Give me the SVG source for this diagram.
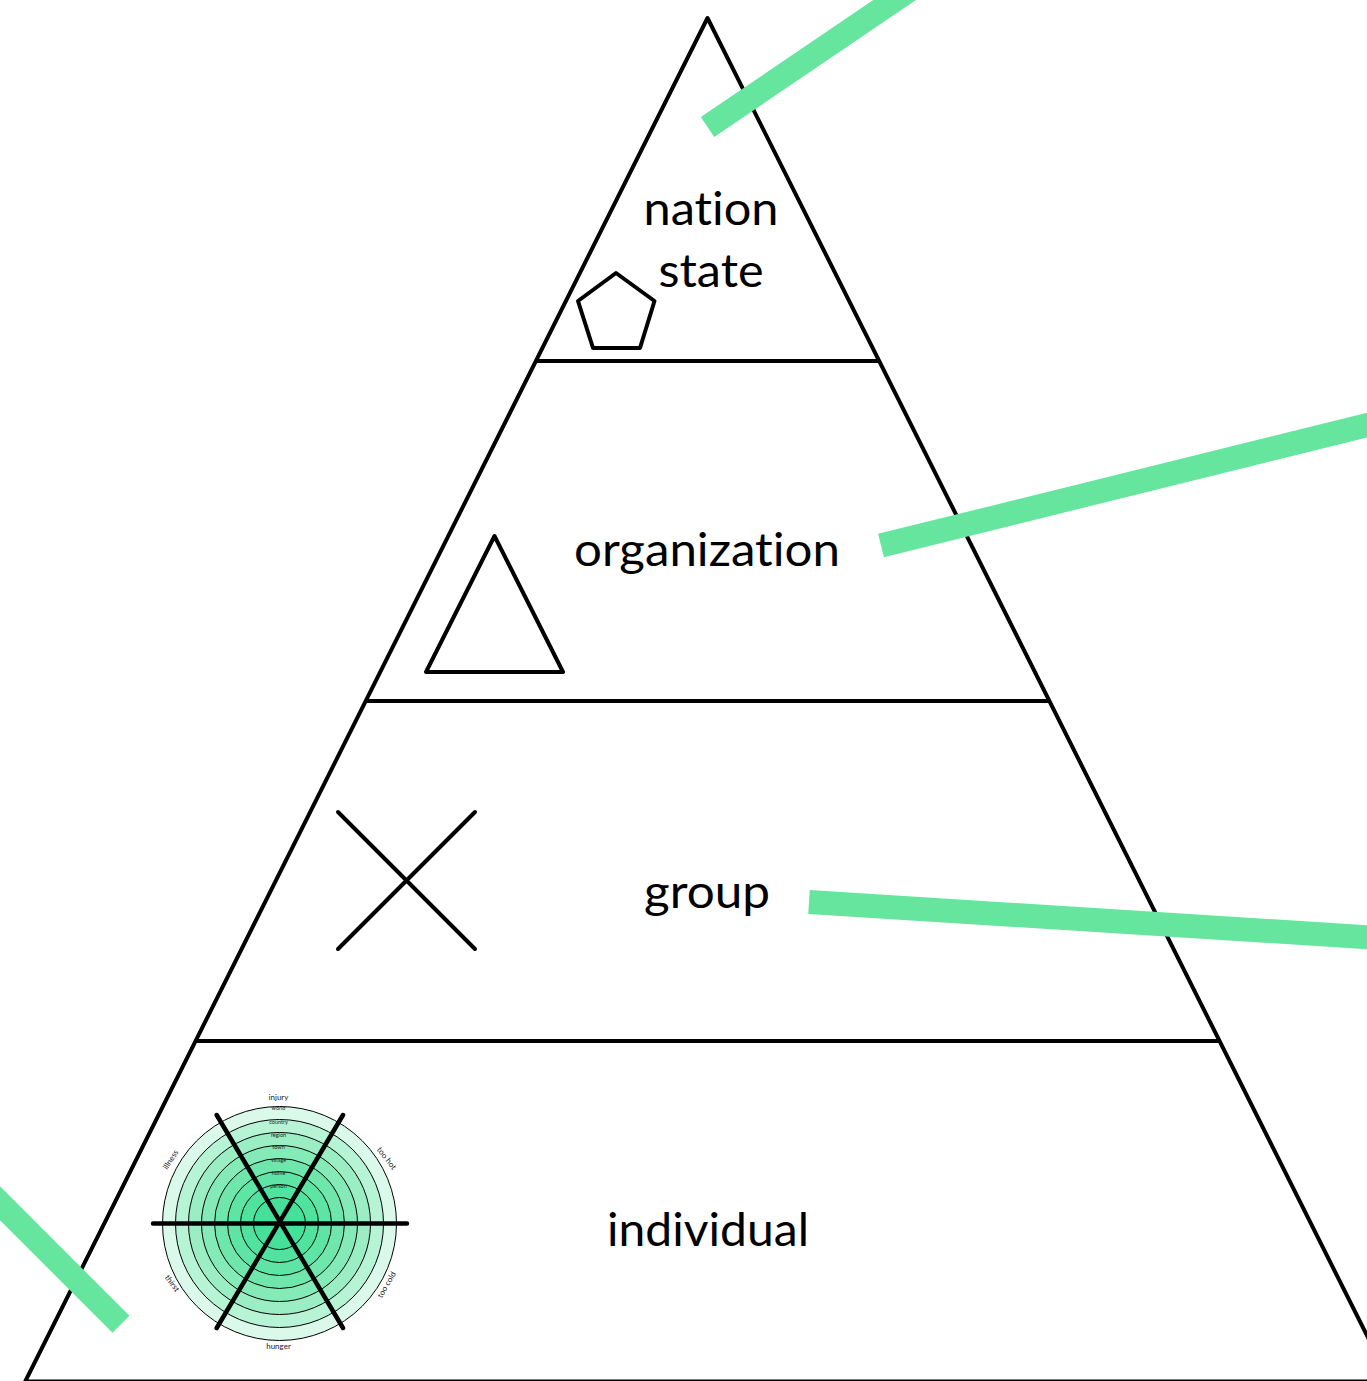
<svg xmlns="http://www.w3.org/2000/svg" width="1367" height="1381" viewBox="0 0 1367 1381">
<style>
.s{fill:none;stroke:#000;stroke-width:4;stroke-linejoin:round;stroke-linecap:round}
.b{fill:none;stroke:#66e59e;stroke-width:24}
.r{stroke:#000;stroke-width:1}
.sp{stroke:#000;stroke-width:4.5;stroke-linecap:round}
text{font-family:"Lato","Noto Sans",sans-serif;fill:#000;text-anchor:middle;font-variant-ligatures:none}
.l{font-size:46px}
.m{font-size:8px;fill:#222}
.t{font-size:5.5px;fill:#222}
</style>
<rect width="1367" height="1381" fill="#fff"/>
<g id="pyramid">
<path class="s" d="M707.5 18L25.2 1381.5H1390Z"/>
<path class="s" d="M537 361H878M367 701H1048M197 1041H1218"/>
</g>
<g id="nation-state">
<text class="l" x="711" y="225" textLength="135" lengthAdjust="spacingAndGlyphs">nation</text>
<text class="l" x="711" y="287" textLength="105" lengthAdjust="spacingAndGlyphs">state</text>
<path class="s" d="M616 273L654.500 301L640 348H593L578 301Z"/>
</g>
<g id="organization">
<text class="l" x="707" y="566" textLength="266" lengthAdjust="spacingAndGlyphs">organization</text>
<path class="s" d="M494.500 536L563 672H426Z"/>
</g>
<g id="group">
<text class="l" x="707" y="908" textLength="126" lengthAdjust="spacingAndGlyphs">group</text>
<path class="s" d="M338 812L475 949M475 812L338 949"/>
</g>
<g id="individual">
<text class="l" x="708" y="1246" textLength="202" lengthAdjust="spacingAndGlyphs">individual</text>
<circle class="r" fill="#dbf9ea" cx="279.500" cy="1223.500" r="117"/>
<circle class="r" fill="#b7f3d5" cx="279.500" cy="1223.500" r="104"/>
<circle class="r" fill="#9beec4" cx="279.500" cy="1223.500" r="91"/>
<circle class="r" fill="#84eab7" cx="279.500" cy="1223.500" r="78"/>
<circle class="r" fill="#6fe7ac" cx="279.500" cy="1223.500" r="65"/>
<circle class="r" fill="#5ee4a5" cx="279.500" cy="1223.500" r="52"/>
<circle class="r" fill="#50e29f" cx="279.500" cy="1223.500" r="39"/>
<circle class="r" fill="#45e09a" cx="279.500" cy="1223.500" r="26"/>
<path class="sp" d="M153 1223.500H407M216.700 1115L343 1328M343 1115L216.700 1328"/>
<text class="m" x="278.500" y="1100">injury</text>
<text class="m" x="278.500" y="1349">hunger</text>
<text class="m" transform="translate(384.500 1160) rotate(52)">too hot</text>
<text class="m" transform="translate(389 1286) rotate(-60)">too cold</text>
<text class="m" transform="translate(173 1161) rotate(-58)">illness</text>
<text class="m" transform="translate(170 1285) rotate(54)">thirst</text>
<text class="t" x="278.500" y="1110">world</text>
<text class="t" x="278.500" y="1124">country</text>
<text class="t" x="278.500" y="1136.500">region</text>
<text class="t" x="278.500" y="1149">town</text>
<text class="t" x="278.500" y="1162">village</text>
<text class="t" x="278.500" y="1175">home</text>
<text class="t" x="278.500" y="1188">person</text>
</g>
<g id="connectors">
<path class="b" d="M707.500 127L930 -24"/>
<path class="b" d="M881 545.500L1380 422"/>
<path class="b" d="M809 902L1380 938"/>
<path class="b" d="M121 1324.300L-20 1183.300"/>
</g>
</svg>
